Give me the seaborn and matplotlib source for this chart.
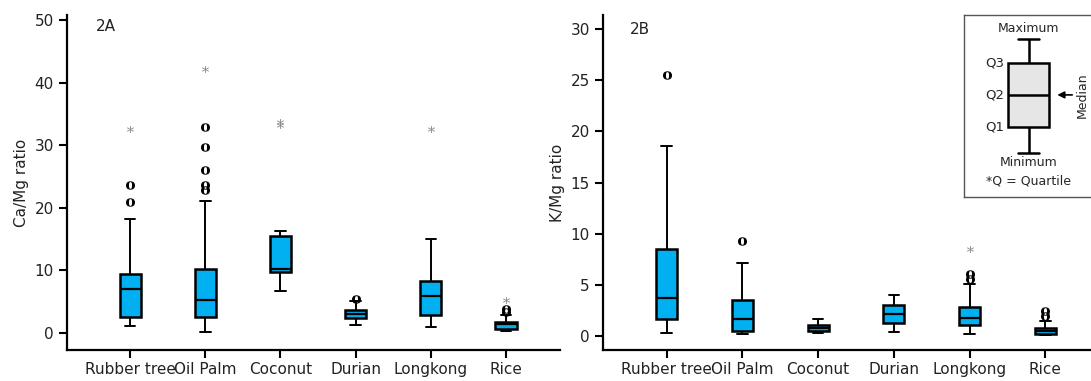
import numpy as np
import pandas as pd
import matplotlib
matplotlib.use("Agg")
import matplotlib.pyplot as plt
import seaborn as sns

sns.set_style("ticks")
plt.rcParams["font.family"] = ["DejaVu Sans"]
plt.rcParams["mathtext.fontset"] = "dejavuserif"

crops = ["Rubber tree", "Oil Palm", "Coconut", "Durian", "Longkong", "Rice"]

# Ca/Mg ratio : whisker low, Q1, median, Q3, whisker high
ca_min = [1.1, 0.2, 6.8, 1.3, 0.9, 0.4]
ca_q1 = [2.6, 2.6, 9.7, 2.4, 2.9, 0.6]
ca_med = [7.1, 5.3, 10.3, 3.1, 5.9, 1.4]
ca_q3 = [9.5, 10.3, 15.5, 3.7, 8.3, 1.8]
ca_max = [18.3, 21.1, 16.3, 5.1, 15.0, 2.9]
# outliers (o) and extremes (*)
ca_out_crop = ["Rubber tree", "Rubber tree", "Oil Palm", "Oil Palm", "Oil Palm",
               "Oil Palm", "Oil Palm", "Durian", "Rice", "Rice"]
ca_out_val = [23.7, 20.9, 32.9, 29.8, 26.0, 23.7, 22.9, 5.4, 3.8, 3.3]
ca_ext_crop = ["Rubber tree", "Oil Palm", "Coconut", "Coconut", "Longkong", "Rice"]
ca_ext_val = [32.6, 42.2, 33.8, 33.3, 32.6, 5.3]

# K/Mg ratio
k_min = [0.26, 0.2, 0.26, 0.4, 0.2, 0.1]
k_q1 = [1.6, 0.5, 0.5, 1.2, 1.0, 0.2]
k_med = [3.7, 1.6, 0.8, 2.1, 1.7, 0.5]
k_q3 = [8.5, 3.5, 1.07, 3.0, 2.8, 0.75]
k_max = [18.6, 7.1, 1.66, 4.0, 5.1, 1.4]
k_out_crop = ["Rubber tree", "Oil Palm", "Longkong", "Longkong", "Rice", "Rice"]
k_out_val = [25.5, 9.3, 6.0, 5.6, 2.4, 1.9]
k_ext_crop = ["Longkong"]
k_ext_val = [8.5]

# schematic box for the key
key_stats = [44, 70, 102, 134, 158]

BLUE = "#00B0F0"


def box_frame(mins, q1, med, q3, maxs):
    rows = []
    for i, c in enumerate(crops):
        for v in (mins[i], q1[i], med[i], q3[i], maxs[i]):
            rows.append((c, v))
    return pd.DataFrame(rows, columns=["crop", "value"])


def panel(ax, df, out_c, out_v, ext_c, ext_v, ylim, yticks, ylabel, tag, tagx, tagy):
    sns.boxplot(data=df, x="crop", y="value", order=crops, whis=(0, 100),
                width=0.28, color=BLUE, saturation=1, showfliers=False,
                linecolor="black", linewidth=1.8, ax=ax,
                whiskerprops=dict(linewidth=1.4), capprops=dict(linewidth=1.4),
                medianprops=dict(linewidth=1.6))
    sns.stripplot(x=out_c, y=out_v, order=crops, jitter=False, marker="$\\mathbf{o}$",
                  color="black", size=6.5, linewidth=0, ax=ax)
    sns.stripplot(x=ext_c, y=ext_v, order=crops, jitter=False, marker="$*$",
                  color="#888888", size=5, linewidth=0, ax=ax)
    ax.set_xlim(-0.84, 5.72)
    ax.set_ylim(*ylim)
    ax.set_yticks(yticks)
    ax.set_xlabel("")
    ax.set_ylabel(ylabel, fontsize=11, color="#222222")
    sns.despine(ax=ax)
    for s in ("left", "bottom"):
        ax.spines[s].set_linewidth(1.6)
        ax.spines[s].set_color("black")
    ax.tick_params(axis="both", length=6, width=1.5, color="black",
                   labelcolor="#222222")
    ax.tick_params(axis="x", labelsize=11, pad=3)
    ax.tick_params(axis="y", labelsize=11)
    ax.text(tagx, tagy, tag, transform=ax.transAxes, fontsize=11,
            va="center", ha="left", color="#222222")


fig = plt.figure(figsize=(10.91, 3.81), dpi=100)
ax1 = fig.add_axes([0.0614, 0.0814, 0.452, 0.879])
ax2 = fig.add_axes([0.5527, 0.0814, 0.4555, 0.879])

panel(ax1, box_frame(ca_min, ca_q1, ca_med, ca_q3, ca_max),
      ca_out_crop, ca_out_val, ca_ext_crop, ca_ext_val,
      (-2.7, 50.8), [0, 10, 20, 30, 40, 50], "Ca/Mg ratio", "2A", 0.058, 0.967)
panel(ax2, box_frame(k_min, k_q1, k_med, k_q3, k_max),
      k_out_crop, k_out_val, k_ext_crop, k_ext_val,
      (-1.4, 31.4), [0, 5, 10, 15, 20, 25, 30], "K/Mg ratio", "2B", 0.054, 0.958)

# key (schematic box)
key = fig.add_axes([0.8836, 0.483, 0.125, 0.478])
sns.boxplot(y=key_stats, whis=(0, 100), width=0.6, color="#E6E6E6", saturation=1,
            linecolor="black", linewidth=1.8, showfliers=False, ax=key)
key.set_xlim(-0.948, 1.052)
key.set_ylim(0, 182)
key.set_xticks([])
key.set_yticks([])
key.set_ylabel("")
for s in key.spines.values():
    s.set_visible(True)
    s.set_linewidth(1.0)
    s.set_color("#555555")
kfs = 9
key.text(0, 168, "Maximum", ha="center", va="center", fontsize=kfs)
key.text(0, 34, "Minimum", ha="center", va="center", fontsize=kfs)
key.text(0, 16, "*Q = Quartile", ha="center", va="center", fontsize=kfs)
for lab, v in zip(["Q1", "Q2", "Q3"], key_stats[1:4]):
    key.text(-0.36, v, lab, ha="right", va="center", fontsize=kfs + 0.5)
key.annotate("", xy=(0.38, 102), xytext=(0.68, 102),
             arrowprops=dict(arrowstyle="-|>", color="black", lw=1.2))
key.text(0.78, 102, "Median", rotation=90, ha="center", va="center", fontsize=kfs)

fig.savefig("out.png", dpi=100)
